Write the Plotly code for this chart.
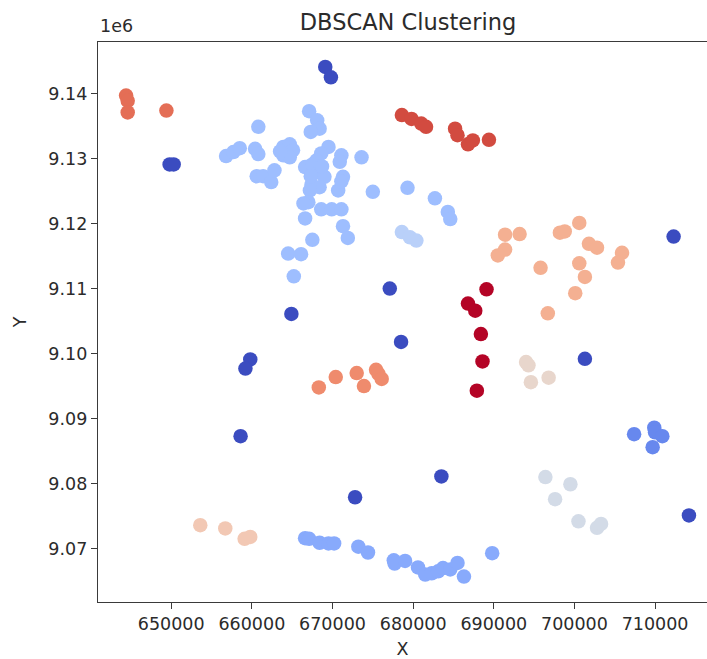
import plotly.graph_objects as go

# ---- data ----
noise_x = [669100, 669800, 649800, 650300, 664900, 677100, 712300, 659800, 659200, 658600, 678500, 701300, 714200, 683500, 672800]
noise_y = [9144100, 9142500, 9129100, 9129100, 9106100, 9110000, 9118000, 9099100, 9097700, 9087300, 9101800, 9099200, 9075100, 9081100, 9077900]

medblue_x = [707400, 709900, 710000, 710900, 709700]
medblue_y = [9087600, 9088600, 9087900, 9087300, 9085600]

bottom_x = [666600, 667100, 668400, 669500, 670200, 673200, 674400, 677600, 677700, 679000,
            680600, 681500, 682300, 683100, 683700, 684600, 685500, 686300, 689800]
bottom_y = [9071600, 9071500, 9070900, 9070800, 9070800, 9070300, 9069400, 9068200, 9067700, 9068100,
            9067100, 9066000, 9066200, 9066500, 9067000, 9066800, 9067800, 9065700, 9069300]

big_x = [667100, 668100, 668400, 667300, 660800, 656800, 657700, 658500, 660400, 660800,
         663900, 664700, 665100, 663900, 664700, 663500, 660600, 661400, 662400, 662800,
         669500, 668600, 668000, 671100, 670900, 673600, 666600, 667500, 668200, 669000,
         671300, 667400, 668400, 667200, 670700, 675000, 667000, 666400, 668600, 669900,
         671100, 666600, 671300, 671900, 667500, 664500, 666100, 665200, 679300, 682700,
         684300, 684600, 671100, 668700, 667300]
big_y = [9137300, 9135900, 9134600, 9134100, 9134900, 9130400, 9131000, 9131600, 9131500, 9130700,
         9131800, 9132200, 9131300, 9130500, 9130200, 9131100, 9127300, 9127300, 9126400, 9128200,
         9131800, 9130800, 9129700, 9130500, 9129500, 9130200, 9128700, 9129100, 9127900, 9127200,
         9127200, 9126000, 9125600, 9125100, 9125100, 9124900, 9123300, 9123100, 9122200, 9122200,
         9122200, 9120800, 9119600, 9117800, 9117500, 9115400, 9115300, 9111900, 9125500, 9123900,
         9121800, 9120700, 9126500, 9128800, 9127300]

vlight_x = [678600, 679600, 680400]
vlight_y = [9118700, 9117900, 9117400]

gray_x = [696400, 699500, 697600, 700500, 702800, 703300]
gray_y = [9081000, 9079900, 9077600, 9074200, 9073200, 9073800]

beige_x = [694000, 694300, 694600, 696800]
beige_y = [9098700, 9098200, 9095600, 9096300]

lpeach_x = [653600, 656700, 659100, 659800]
lpeach_y = [9073600, 9073100, 9071500, 9071800]

peach_x = [691400, 693200, 691400, 690500, 695800, 698200, 698800, 700600, 701800, 702800,
           700600, 701300, 700100, 696700, 705900, 705400]
peach_y = [9118300, 9118400, 9116000, 9115100, 9113200, 9118600, 9118800, 9120100, 9116900, 9116300,
           9113900, 9111800, 9109300, 9106200, 9115500, 9114000]

salmon_x = [668300, 670400, 673000, 673900, 675400, 675700, 676100]
salmon_y = [9094800, 9096400, 9097000, 9095000, 9097500, 9096900, 9096100]

topleft_x = [644400, 644600, 644600, 649400]
topleft_y = [9139700, 9138900, 9137100, 9137400]

topred_x = [678600, 679800, 681000, 681600, 685200, 685500, 686800, 687400, 689400]
topred_y = [9136700, 9136100, 9135400, 9134900, 9134600, 9133600, 9132200, 9132800, 9132900]

darkred_x = [689100, 686800, 687700, 688400, 688600, 687900]
darkred_y = [9109900, 9107700, 9106600, 9103000, 9098800, 9094300]

x_ticks = [650000, 660000, 670000, 680000, 690000, 700000, 710000]
y_ticks = [9070000, 9080000, 9090000, 9100000, 9110000, 9120000, 9130000, 9140000]
y_tick_text = ["9.07", "9.08", "9.09", "9.10", "9.11", "9.12", "9.13", "9.14"]

clusters = [
    (noise_x, noise_y, "#3b4cc0"),
    (medblue_x, medblue_y, "#6788ee"),
    (bottom_x, bottom_y, "#88aafc"),
    (big_x, big_y, "#9ebeff"),
    (vlight_x, vlight_y, "#b9d0f9"),
    (gray_x, gray_y, "#d3dbe7"),
    (beige_x, beige_y, "#e8d6cc"),
    (lpeach_x, lpeach_y, "#f2c8b4"),
    (peach_x, peach_y, "#f4b092"),
    (salmon_x, salmon_y, "#ef8b6d"),
    (topleft_x, topleft_y, "#e46e56"),
    (topred_x, topred_y, "#d24b40"),
    (darkred_x, darkred_y, "#b40426"),
]

fig = go.Figure()
for xs, ys, col in clusters:
    fig.add_trace(go.Scatter(x=xs, y=ys, mode="markers",
                             marker=dict(size=14.5, color=col, line=dict(width=0)),
                             showlegend=False, hoverinfo="skip"))

font_col = "#2b2b2b"
axis_col = "#3a3a3a"
fam = "DejaVu Sans"

fig.update_layout(
    width=707, height=659,
    margin=dict(l=98, r=0, t=42, b=57),
    paper_bgcolor="white", plot_bgcolor="white",
    font=dict(family=fam, size=17.5, color=font_col),
    title=dict(text="DBSCAN Clustering", x=(408 / 707), xanchor="center",
               y=1 - 22.5 / 659, yanchor="middle", yref="container",
               font=dict(family=fam, size=22.5, color=font_col)),
    xaxis=dict(range=[640918, 716440], tickmode="array", tickvals=x_ticks,
               ticktext=[str(v) for v in x_ticks],
               showgrid=False, zeroline=False, showline=True, mirror=True,
               linecolor=axis_col, linewidth=1.4, ticks="outside", ticklen=6,
               tickcolor=axis_col, tickwidth=1.2,
               tickfont=dict(family=fam, size=17.5, color=font_col),
               title=dict(text="X", standoff=11, font=dict(family=fam, size=17.5, color=font_col))),
    yaxis=dict(range=[9061785, 9147940], tickmode="array", tickvals=y_ticks,
               ticktext=y_tick_text,
               showgrid=False, zeroline=False, showline=True, mirror=False,
               linecolor=axis_col, linewidth=1.4, ticks="outside", ticklen=6,
               tickcolor=axis_col, tickwidth=1.2,
               tickfont=dict(family=fam, size=17.5, color=font_col),
               title=dict(text="Y", standoff=17, font=dict(family=fam, size=17.5, color=font_col))),
    annotations=[dict(text="1e6", x=0, y=1.0, xref="paper", yref="paper",
                      xanchor="left", yanchor="bottom", yshift=4, showarrow=False,
                      font=dict(family=fam, size=17.5, color=font_col))],
)

fig.write_html("out.html")
